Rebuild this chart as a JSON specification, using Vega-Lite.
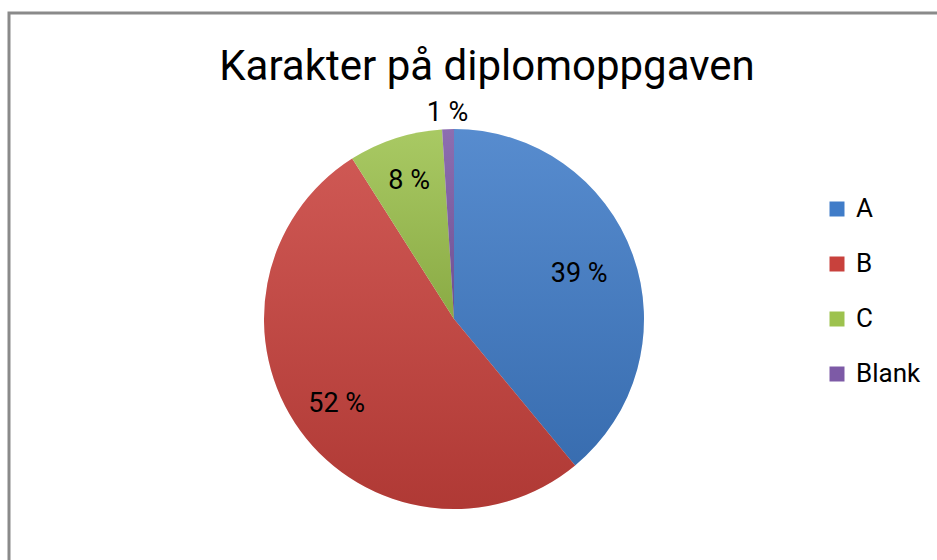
{
  "$schema": "https://vega.github.io/schema/vega-lite/v6.json",
  "width": 940,
  "height": 560,
  "autosize": {"type": "none"},
  "padding": {"left": 9, "top": 13, "right": 0, "bottom": 0},
  "background": "white",
  "view": {"stroke": "#8a8a8a", "strokeWidth": 3},
  "config": {
    "view": {"stroke": "#8a8a8a", "strokeWidth": 3},
    "font": "Roboto"
  },
  "title": {
    "text": "Karakter på diplomoppgaven",
    "orient": "top",
    "anchor": "middle",
    "frame": "group",
    "baseline": "alphabetic",
    "offset": -67,
    "dy": 42,
    "dx": 8,
    "font": "Roboto",
    "fontSize": 42,
    "fontWeight": "normal",
    "color": "#000000"
  },
  "data": {
    "values": [
      {"grade": "A", "share": 39, "label": "39 %"},
      {"grade": "B", "share": 52, "label": "52 %"},
      {"grade": "C", "share": 8, "label": "8 %"},
      {"grade": "Blank", "share": 1, "label": "1 %"}
    ]
  },
  "transform": [{"window": [{"op": "row_number", "as": "idx"}]}],
  "encoding": {
    "theta": {"field": "share", "type": "quantitative", "stack": true},
    "order": {"field": "idx", "type": "quantitative"}
  },
  "layer": [
    {
      "mark": {"type": "arc", "x": 445, "y": 306, "radius": 190, "stroke": null},
      "encoding": {
        "color": {
          "field": "grade",
          "type": "nominal",
          "scale": {"domain": ["A", "B", "C", "Blank"], "range": ["#407cc8", "#c8413c", "#9dc24e", "#7d5aa6"]},
          "legend": {
            "title": null,
            "orient": "none",
            "legendX": 815,
            "legendY": 183,
            "symbolType": "square",
            "symbolSize": 225,
            "symbolStrokeWidth": 0,
            "labelFont": "Roboto",
            "labelFontSize": 26,
            "labelColor": "#000000",
            "labelOffset": 6,
            "rowPadding": 29
          }
        }
      }
    },
    {
      "mark": {
        "type": "arc",
        "x": 445,
        "y": 306,
        "radius": 190,
        "stroke": null,
        "fill": {
          "gradient": "linear",
          "x1": 0, "y1": 0, "x2": 0, "y2": 1,
          "stops": [
            {"offset": 0, "color": "rgba(255,255,255,0.12)"},
            {"offset": 1, "color": "rgba(0,0,0,0.12)"}
          ]
        }
      }
    },
    {
      "mark": {
        "type": "text",
        "x": 445,
        "y": 306,
        "radius": {"expr": "datum.grade == 'Blank' ? 206 : (datum.grade == 'A' ? 133 : 145)"},
        "font": "Roboto",
        "fontSize": 27,
        "color": "#000000"
      },
      "encoding": {
        "text": {"field": "label", "type": "nominal"}
      }
    }
  ]
}
